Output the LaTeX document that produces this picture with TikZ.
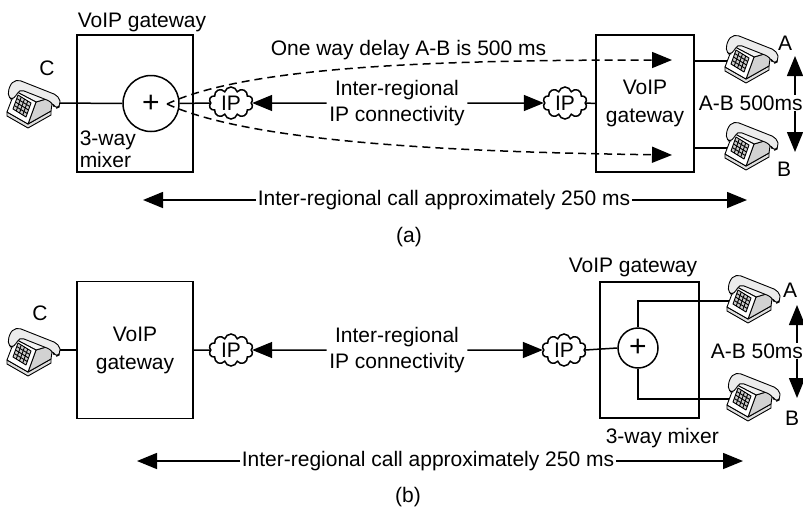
\documentclass[tikz,border=0pt]{standalone}
\usepackage{fontspec}
\setmainfont{Liberation Sans}
\usepackage{tikz}
\usetikzlibrary{positioning,arrows.meta,shapes.symbols}

% desk telephone, drawn in pixel-like units with y pointing down
\tikzset{
  pics/phone/.style={code={
    \begin{scope}[line width=0.45pt,line join=round]
      \draw[fill=gray!25] (-26,9) -- (-26,13) -- (-5,25) -- (18,12) -- (18,8) -- (-5,21) -- cycle;
      \draw[fill=gray!35] (-5,21) -- (18,8) -- (20,-6) -- (3,-1) -- cycle;
      \draw[fill=gray!10] (-18,-12) -- (3,-1) -- (20,-6) -- (0,-16) -- cycle;
      \draw[fill=white] (-26,9) -- (-5,21) -- (3,-1) -- (-18,-12) -- cycle;
      \draw[fill=gray!40] (-20,6) -- (-7,14) -- (-2,0) -- (-15,-8) -- cycle;
      \foreach \k in {1,2,3} {
        \draw ({-20+13*\k/4},{6+8*\k/4}) -- ++(5,-14);
        \draw ({-20+5*\k/4},{6-14*\k/4}) -- ++(13,8);
      }
      \draw[fill=gray!15,rounded corners=2.5] (-25,-4) -- (-24,-17) -- (-17,-24)
        -- (26,-7) -- (28,3) -- (22,6) -- (19,-1) -- (-14,-14) -- (-18,-4) -- cycle;
    \end{scope}
  }}
}

\begin{document}
\begin{tikzpicture}[x=0.5pt,y=-0.5pt,line width=0.75pt,
      font=\fontsize{10.5}{13}\selectfont,
      gw/.style={draw,minimum width=58pt,minimum height=68.5pt,inner sep=0pt,
                 align=center,font=\fontsize{10.5}{14}\selectfont},
      mix/.style={circle,draw,inner sep=0pt,font=\fontsize{15}{15}\selectfont},
      ip/.style={cloud,draw,cloud puffs=10,aspect=1.4,inner sep=0.6pt,
                 minimum width=22pt,minimum height=16pt},
      lbl/.style={inner sep=0pt,anchor=base},
      arr/.style={-{Triangle[length=10pt,width=8pt]}},
      dly/.style={arr,dash pattern=on 4pt off 2.5pt}]
  \useasboundingbox (0,0) rectangle (803,509);

  % (a) conference mixed at C's gateway
  \node[gw] (gwla) at (135,103.5) {};
  \node[lbl,anchor=base west] (titla) at (77,27) {VoIP gateway};
  \node[mix,minimum size=28pt] (mixa) at (151,103.5) {+};
  \node[inner sep=0pt,anchor=south west,align=left,
        font=\fontsize{10.5}{8.5}\selectfont] (mixtxta) at (79,168) {3-way\\mixer};
  \node[ip] (ipla) at (231,103) {IP};
  \node[align=center,inner sep=1pt] (linka) at (397,103) {Inter-regional\\IP connectivity};
  \node[ip] (ipra) at (565,103) {IP};
  \node[gw,minimum width=49pt] (gwra) at (645,103.5) {VoIP\\gateway};
  \node[lbl] (ca) at (47,75) {C};
  \node[lbl] (aa) at (785,50) {A};
  \node[lbl] (ba) at (784,176) {B};
  \node[lbl,anchor=base west] (dlya) at (270,55) {One way delay A-B is 500 ms};
  \node[lbl,anchor=base west] (aba) at (698,110) {A-B 500ms};
  \node[inner sep=0.5pt] (calla) at (444,200) {Inter-regional call approximately 250 ms};
  \node (capa) at (409,237) {(a)};

  \coordinate (pca) at (60,103);
  \coordinate (paa) at (728,61);
  \coordinate (pba) at (728,148);
  \coordinate (srca) at (167,104);
  \coordinate (tipaa) at (672,60);
  \coordinate (tipba) at (672,155);
  \coordinate (upa) at (795,56);
  \coordinate (dna) at (795,152);
  \coordinate (lefta) at (143,200);
  \coordinate (righta) at (747,200);

  \draw (pca) -- (mixa.west);
  \draw (mixa.east) -- (ipla.west);
  \draw[arr] (linka.west) -- (ipla.east);
  \draw[arr] (linka.east) -- (ipra.west);
  \draw (ipra.east) -- (gwra.west);
  \draw (gwra.east |- paa) -- (paa);
  \draw (gwra.east |- pba) -- (pba);
  \draw[dly] (srca) .. controls (250,65) and (450,60) .. (tipaa);
  \draw[dly] (srca) .. controls (250,142) and (450,152) .. (tipba);
  \draw[arr] (aba.north -| upa) -- (upa);
  \draw[arr] (aba.south -| dna) -- (dna);
  \draw[arr] (calla.west) -- (lefta);
  \draw[arr] (calla.east) -- (righta);

  \pic at (33,103) {phone};
  \pic at (751,58) {phone};
  \pic at (751,145) {phone};

  % (b) conference mixed at the gateway next to A and B
  \node[gw] (gwlb) at (135,350) {VoIP\\gateway};
  \node[ip] (iplb) at (231,350) {IP};
  \node[align=center,inner sep=1pt] (linkb) at (397,350) {Inter-regional\\IP connectivity};
  \node[ip] (iprb) at (564,350) {IP};
  \node[gw,minimum width=49.5pt,minimum height=68pt] (gwrb) at (649.5,350) {};
  \node[lbl,anchor=base west] (titrb) at (568,272) {VoIP gateway};
  \node[mix,minimum size=20pt] (mixb) at (638,348) {+};
  \node[lbl,anchor=base west] (mixtxtb) at (605,443) {3-way mixer};
  \node[lbl] (cb) at (40,320) {C};
  \node[lbl] (ab) at (790,297) {A};
  \node[lbl] (bb) at (792,425) {B};
  \node[lbl,anchor=base west] (abb) at (710,358) {A-B 50ms};
  \node[inner sep=0.5pt] (callb) at (428,461) {Inter-regional call approximately 250 ms};
  \node (capb) at (408,497) {(b)};

  \coordinate (pcb) at (60,350);
  \coordinate (pab) at (730,301);
  \coordinate (pbb) at (730,399);
  \coordinate (upb) at (797,305);
  \coordinate (dnb) at (797,398);
  \coordinate (leftb) at (137,461);
  \coordinate (rightb) at (743,461);

  \draw (pcb) -- (gwlb.west);
  \draw (gwlb.east) -- (iplb.west);
  \draw[arr] (linkb.west) -- (iplb.east);
  \draw[arr] (linkb.east) -- (iprb.west);
  \draw (iprb.east) -- (mixb.west);
  \draw (mixb.north) |- (pab);
  \draw (mixb.south) |- (pbb);
  \draw[arr] (abb.north -| upb) -- (upb);
  \draw[arr] (abb.south -| dnb) -- (dnb);
  \draw[arr] (callb.west) -- (leftb);
  \draw[arr] (callb.east) -- (rightb);

  \pic at (33,351) {phone};
  \pic at (753,298) {phone};
  \pic at (753,396) {phone};
\end{tikzpicture}
\end{document}
